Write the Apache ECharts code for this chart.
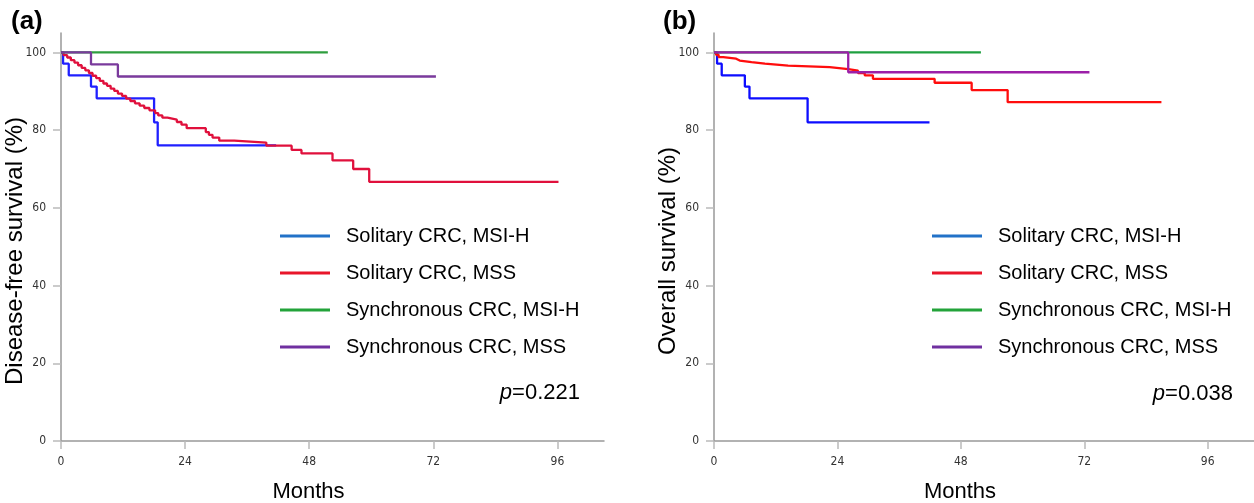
<!DOCTYPE html>
<html><head><meta charset="utf-8">
<script src="https://cdn.jsdelivr.net/npm/echarts@6/dist/echarts.min.js"></script>
<style>html,body{margin:0;padding:0;background:#fff}#c{width:1254px;height:503px}</style>
</head><body><div id="c"></div>
<script>
// ---- data ----
const seriesNames = ['Solitary CRC, MSI-H', 'Solitary CRC, MSS', 'Synchronous CRC, MSI-H', 'Synchronous CRC, MSS'];
const xTickValues = [0, 24, 48, 72, 96];
const yTickValues = [0, 20, 40, 60, 80, 100];
const panelLabels = ['(a)', '(b)'];
const yTitles = ['Disease-free survival (%)', 'Overall survival (%)'];
const xTitle = 'Months';
const pValues = ['0.221', '0.038'];

// Panel (a): disease-free survival
const a_blue_t = [0, 0.4, 1.5, 5.8, 6.9, 18.0, 18.7, 41.6];
const a_blue_s = [100, 97.1, 94.1, 91.2, 88.2, 82.0, 76.1, 76.1];
const a_red_t = [0, 0.5, 1.2, 1.9, 2.6, 3.3, 4.0, 4.7, 5.4, 6.1, 6.8, 7.5, 8.2, 8.9, 9.6, 10.3, 11.0, 11.8, 12.6, 13.4, 14.3, 15.2, 16.1, 17.1, 18.2, 18.8, 19.6, 20.6, 22.4, 23.3, 24.3, 28.0, 28.6, 29.3, 30.6, 33.5, 39.7, 44.6, 46.5, 52.5, 56.5, 59.6, 96.2];
const a_red_s = [100, 99.3, 98.7, 98.0, 97.4, 96.7, 96.0, 95.4, 94.7, 94.0, 93.4, 92.7, 92.0, 91.4, 90.7, 90.1, 89.4, 88.8, 88.1, 87.5, 86.9, 86.3, 85.7, 85.1, 84.4, 83.8, 83.2, 82.7, 82.1, 81.4, 80.5, 79.5, 78.8, 78.1, 77.3, 76.8, 76.0, 74.9, 74.0, 72.2, 70.0, 66.7, 66.7];
const a_green_t = [0, 51.6];
const a_green_s = [100, 100];
const a_purple_t = [0, 5.8, 11.0, 72.5];
const a_purple_s = [100, 96.9, 93.8, 93.8];

// Panel (b): overall survival
const b_blue_t = [0, 0.6, 1.5, 6.0, 6.9, 18.2, 41.9];
const b_blue_s = [100, 97.1, 94.1, 91.2, 88.2, 82.0, 82.0];
const b_red_t = [0, 0.4, 0.9, 1.8, 4.3, 5.0, 7.3, 9.9, 14.4, 22.5, 26.1, 28.0, 29.3, 30.9, 42.9, 50.1, 57.1, 87.0];
const b_red_s = [100, 99.4, 98.8, 98.4, 97.9, 97.5, 97.1, 96.6, 96.2, 95.7, 95.3, 94.7, 94.1, 93.2, 92.2, 90.3, 87.2, 87.2];
const b_green_t = [0, 51.9];
const b_green_s = [100, 100];
const b_purple_t = [0, 26.1, 73.0];
const b_purple_s = [100, 94.9, 94.9];

// ---- styles ----
const curveColorsA = ['#2020ff', '#e0103c', '#2e9e3e', '#7a3a9c'];
const curveColorsB = ['#0d0dff', '#ff0d0d', '#1fa040', '#9c1fa8'];
const legendColors = ['#2272c8', '#e8162a', '#23a33a', '#7030a0'];
const tickFont = "'Liberation Sans Narrow','DejaVu Sans Condensed','Liberation Sans',sans-serif";
const mainFont = "'Liberation Sans', Arial, sans-serif";

function pairs(t, s) { return t.map((v, i) => [v, s[i]]); }

const panelData = [
  [pairs(a_blue_t, a_blue_s), pairs(a_red_t, a_red_s), pairs(a_green_t, a_green_s), pairs(a_purple_t, a_purple_s)],
  [pairs(b_blue_t, b_blue_s), pairs(b_red_t, b_red_s), pairs(b_green_t, b_green_s), pairs(b_purple_t, b_purple_s)]
];
const panelColors = [curveColorsA, curveColorsB];

const grids = [
  { left: 61, top: 33, width: 543, height: 408, outerBoundsMode: 'none', containLabel: false },
  { left: 714, top: 33, width: 540, height: 408, outerBoundsMode: 'none', containLabel: false }
];

const xAxes = grids.map((g, i) => ({
  type: 'value', gridIndex: i, min: 0, max: 105,
  name: xTitle, nameLocation: 'middle', nameGap: 40,
  nameTextStyle: { fontFamily: mainFont, fontSize: 22, color: '#000', padding: [0, 48, 0, 0] },
  axisLine: { show: true, onZero: false, lineStyle: { color: '#999', width: 1.5 } },
  axisTick: { show: true, length: 8, customValues: xTickValues, lineStyle: { color: '#bbb', width: 1.5 } },
  axisLabel: { customValues: xTickValues, margin: 15, fontFamily: tickFont, fontSize: 12, color: '#333' },
  splitLine: { show: false }
}));
const yAxes = grids.map((g, i) => ({
  type: 'value', gridIndex: i, min: 0, max: 105,
  name: yTitles[i], nameLocation: 'middle', nameGap: 34, nameRotate: 90, nameMoveOverlap: false,
  nameTextStyle: { fontFamily: mainFont, fontSize: 24, color: '#000', padding: [0, 28, 0, 0] },
  axisLine: { show: true, lineStyle: { color: '#999', width: 1.5 } },
  axisTick: { show: true, length: 8, customValues: yTickValues, lineStyle: { color: '#bbb', width: 1.5 } },
  axisLabel: { customValues: yTickValues, margin: 15, fontFamily: tickFont, fontSize: 12, color: '#333' },
  splitLine: { show: false }
}));

const series = [];
panelData.forEach((arr, p) => {
  arr.forEach((d, k) => {
    series.push({
      name: seriesNames[k], type: 'line', step: 'end',
      xAxisIndex: p, yAxisIndex: p, data: d,
      showSymbol: false, symbol: 'none', silent: true, animation: false,
      lineStyle: { color: panelColors[p][k], width: 2.3 },
      itemStyle: { color: panelColors[p][k] }
    });
  });
});

const legendLefts = [275, 927];
const legends = legendLefts.map(l => ({
  orient: 'vertical', left: l, top: 220,
  icon: 'rect', itemWidth: 50, itemHeight: 3, itemGap: 15,
  selectedMode: false,
  textStyle: { fontFamily: mainFont, fontSize: 20, color: '#000', lineHeight: 22, padding: [0, 0, 0, 11] },
  data: seriesNames.map((n, k) => ({ name: n, itemStyle: { color: legendColors[k] } }))
}));

const pRight = [1254 - 580, 1254 - 1233];
const pTop = [382, 383];
const labelPos = [[11, 23], [663, 23]];
const graphics = [];
pValues.forEach((v, i) => {
  graphics.push({
    type: 'text', right: pRight[i], top: pTop[i],
    style: {
      text: '{i|p}=' + v,
      rich: { i: { fontStyle: 'italic', fontFamily: mainFont, fontSize: 22, fill: '#000' } },
      fontFamily: mainFont, fontSize: 22, fill: '#000'
    }
  });
});
panelLabels.forEach((t, i) => {
  graphics.push({
    type: 'text', left: labelPos[i][0], top: labelPos[i][1] - 14,
    style: { text: t, fontFamily: mainFont, fontSize: 26, fontWeight: 'bold', fill: '#000' }
  });
});

const chart = echarts.init(document.getElementById('c'), null, { renderer: 'canvas' });
chart.setOption({
  backgroundColor: '#fff',
  animation: false,
  grid: grids,
  xAxis: xAxes,
  yAxis: yAxes,
  legend: legends,
  series: series,
  graphic: graphics
});
</script>
</body></html>
